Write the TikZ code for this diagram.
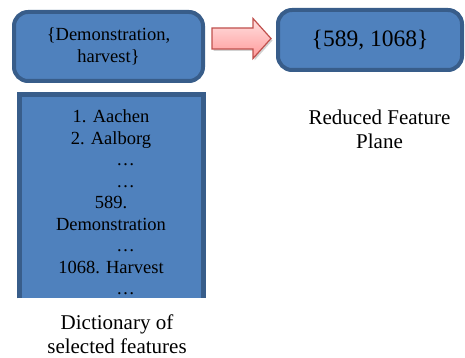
\documentclass[tikz,border=0pt]{standalone}
\usepackage{fontspec}
\setmainfont{Liberation Serif}
\usetikzlibrary{shadows}
\definecolor{boxblue}{HTML}{4F81BD}
\definecolor{boxline}{HTML}{385D8A}
\definecolor{arrowline}{HTML}{C0504D}
\begin{document}
\begin{tikzpicture}[x=1pt,y=1pt,
  bluebox/.style={draw=boxline,fill=boxblue,line width=4pt,rounded corners=14pt,inner sep=0pt},
  boxtext/.style={font=\fontsize{18.5}{21.5}\selectfont,align=center,inner sep=0pt},
  captext/.style={font=\fontsize{21}{24}\selectfont,align=center,inner sep=0pt,anchor=north}]
\useasboundingbox (0,0) rectangle (465,358);
% top row
\node[bluebox,boxtext,minimum width=189pt,minimum height=69pt] (words) at (108.5,311.5) {\{Demonstration,\\harvest\}};
\node[bluebox,minimum width=184pt,minimum height=60pt,font=\fontsize{23.5}{27}\selectfont] (ids) at (370,318) {\{589, 1068\}};
\coordinate (tail) at (212,319.5);
\draw[arrowline,line width=1.2pt,top color=red!12,bottom color=red!40,
  drop shadow={shadow xshift=1.5pt,shadow yshift=-2pt,fill=black!35}]
  (tail) ++(0,10.5) -- ++(41,0) -- ++(0,9.5) -- ++(18,-20) -- ++(-18,-20) -- ++(0,9.5) -- ++(-41,0) -- cycle;
% dictionary
\node[fill=boxblue,minimum width=184pt,minimum height=203.5pt,inner sep=0pt,anchor=north west] (dict) at (19.5,263.5) {};
\draw[boxline,line width=5pt] (dict.south west) -- (dict.north west) -- (dict.north east) -- (dict.south east);
\node[boxtext,anchor=north] (list) at (111,248.5) {1. Aachen\\2. Aalborg\\\hspace*{29pt}\dots\\\hspace*{29pt}\dots\\589.\\Demonstration\\\hspace*{29pt}\dots\\1068. Harvest\\\hspace*{29pt}\dots};
% captions
\node[captext] (dictcap) at (117,43) {Dictionary of\\selected features};
\node[captext] (planecap) at (379.5,248) {Reduced Feature\\Plane};
\end{tikzpicture}
\end{document}
